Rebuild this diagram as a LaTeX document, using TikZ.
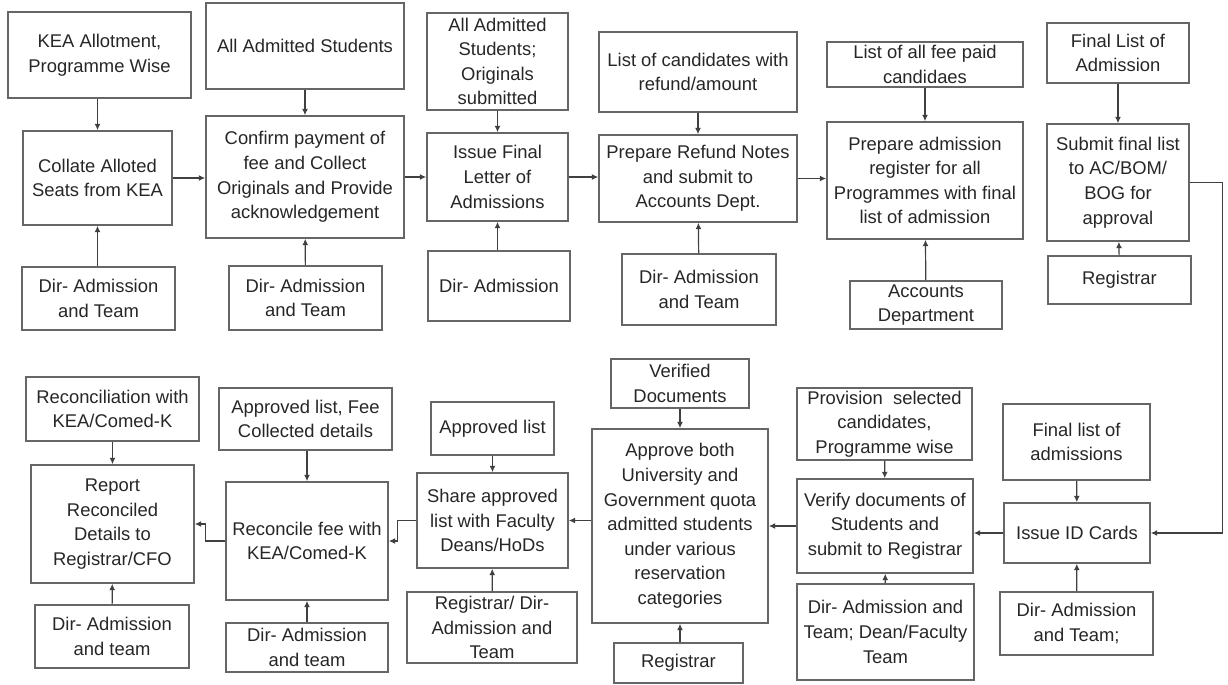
\documentclass[tikz,border=0pt]{standalone}
\usepackage{fontspec}
\setmainfont{Liberation Sans}
\usetikzlibrary{arrows.meta}

\tikzset{
    box/.style = {
        draw=black!60,
        line width=0.8pt,
        align=center,
        inner sep=0pt,
        text=black!85,
        font=\fontsize{9.2}{12.3}\selectfont
    },
    flow/.style = {
        draw=black!75,
        line width=0.6pt,
        -{Latex[length=3.2pt,width=3pt]}
    }
}

\begin{document}
\begin{tikzpicture}[x=0.5pt,y=-0.5pt]
    \useasboundingbox (0,0) rectangle (1228,685);

    % Top row
    \node[box, minimum width=91.5pt, minimum height=43pt] (kea) at (99.5,55) {KEA Allotment,\\Programme Wise};
    \node[box, minimum width=74.5pt, minimum height=47pt] (collate) at (97.5,178) {Collate Alloted\\Seats from KEA};
    \node[box, minimum width=76.5pt, minimum height=31.5pt] (dir1) at (98.5,298.5) {Dir- Admission\\and Team};

    \node[box, minimum width=99pt, minimum height=43pt] (alladm) at (305,46) {All Admitted Students};
    \node[box, minimum width=99pt, minimum height=61pt] (confirm) at (305,177) {Confirm payment of\\fee and Collect\\Originals and Provide\\acknowledgement};
    \node[box, minimum width=76.5pt, minimum height=32pt] (dir2) at (305.5,298) {Dir- Admission\\and Team};

    \node[box, minimum width=70.5pt, minimum height=48.5pt] (origs) at (497.5,61.5) {All Admitted\\Students;\\Originals\\submitted};
    \node[box, minimum width=70.5pt, minimum height=44pt] (issue) at (497.5,177) {Issue Final\\Letter of\\Admissions};
    \node[box, minimum width=71pt, minimum height=35pt] (dir3) at (499,286) {Dir- Admission};

    \node[box, minimum width=99pt, minimum height=40pt] (refundlist) at (698,72) {List of candidates with\\refund/amount};
    \node[box, minimum width=99pt, minimum height=43.5pt] (refund) at (698,178.5) {Prepare Refund Notes\\and submit to\\Accounts Dept.};
    \node[box, minimum width=77pt, minimum height=35.5pt] (dir4) at (699,289.5) {Dir- Admission\\and Team};

    \node[box, minimum width=98pt, minimum height=22.5pt] (feepaid) at (925,64.5) {List of all fee paid\\candidaes};
    \node[box, minimum width=98pt, minimum height=58.5pt] (register) at (925,180.5) {Prepare admission\\register for all\\Programmes with final\\list of admission};
    \node[box, minimum width=76pt, minimum height=24pt] (accounts) at (926,305) {Accounts\\Department};

    \node[box, minimum width=71pt, minimum height=30pt] (finallist) at (1118,53) {Final List of\\Admission};
    \node[box, minimum width=71pt, minimum height=58.5pt] (submit) at (1118,182.5) {Submit final list\\to AC/BOM/\\BOG for\\approval};
    \node[box, minimum width=71.5pt, minimum height=24pt] (registrar1) at (1119.5,280) {Registrar};

    % Bottom row
    \node[box, minimum width=86.5pt, minimum height=32pt] (reconkea) at (112.5,409) {Reconciliation with\\KEA/Comed-K};
    \node[box, minimum width=81.5pt, minimum height=59pt] (report) at (112.5,524) {Report\\Reconciled\\Details to\\Registrar/CFO};
    \node[box, minimum width=77pt, minimum height=31.5pt] (dir5) at (112,636.5) {Dir- Admission\\and team};

    \node[box, minimum width=86.5pt, minimum height=31pt] (feecoll) at (305.5,419) {Approved list, Fee\\Collected details};
    \node[box, minimum width=81pt, minimum height=59pt] (reconcile) at (307,541) {Reconcile fee with\\KEA/Comed-K};
    \node[box, minimum width=81pt, minimum height=24.5pt] (dir6) at (307,647.5) {Dir- Admission\\and team};

    \node[box, minimum width=61.5pt, minimum height=26.5pt] (apprlist) at (492.5,428.5) {Approved list};
    \node[box, minimum width=75.5pt, minimum height=47.5pt] (share) at (492.5,520.5) {Share approved\\list with Faculty\\Deans/HoDs};
    \node[box, minimum width=85pt, minimum height=35.5pt] (regdir) at (492,627.5) {Registrar/ Dir-\\Admission and\\Team};

    \node[box, minimum width=69pt, minimum height=24.5pt] (verified) at (680,383.5) {Verified\\Documents};
    \node[box, minimum width=88pt, minimum height=97pt] (approve) at (680,526) {Approve both\\University and\\Government quota\\admitted students\\under various\\reservation\\categories};
    \node[box, minimum width=64.5pt, minimum height=20pt] (registrar2) at (678.5,663) {Registrar};

    \node[box, minimum width=87.5pt, minimum height=36pt] (provision) at (884.5,424) {Provision\ \ selected\\candidates,\\Programme wise};
    \node[box, minimum width=88pt, minimum height=47pt] (verify) at (885,526) {Verify documents of\\Students and\\submit to Registrar};
    \node[box, minimum width=88.5pt, minimum height=48pt] (dir7) at (885.5,632) {Dir- Admission and\\Team; Dean/Faculty\\Team};

    \node[box, minimum width=73.5pt, minimum height=38pt] (finaladm) at (1076.5,442) {Final list of\\admissions};
    \node[box, minimum width=73pt, minimum height=30pt] (idcards) at (1077,533) {Issue ID Cards};
    \node[box, minimum width=76.5pt, minimum height=31.5pt] (dir8) at (1076.5,623.5) {Dir- Admission\\and Team;};

    % Draw arrows
    \draw[flow] (kea.south -| collate) -- (collate.north);
    \draw[flow] (dir1.north -| collate) -- (collate.south);
    \draw[flow] (collate.east) -- (collate.east -| confirm.west);
    \draw[flow] (alladm) -- (confirm);
    \draw[flow] (dir2) -- (confirm);
    \draw[flow] (confirm) -- (issue);
    \draw[flow] (origs) -- (issue);
    \draw[flow] (dir3.north -| issue) -- (issue.south);
    \draw[flow] (issue.east) -- (issue.east -| refund.west);
    \draw[flow] (refundlist) -- (refund);
    \draw[flow] (dir4) -- (refund);
    \draw[flow] (refund.east) -- (refund.east -| register.west);
    \draw[flow] (feepaid) -- (register);
    \draw[flow] (accounts) -- (register);
    \draw[flow] (finallist) -- (submit);
    \draw[flow] (registrar1) -- (submit);
    \draw[flow] (submit.east) -- ++(33,0) |- (idcards.east);
    %
    \draw[flow] (finaladm) -- (idcards);
    \draw[flow] (dir8) -- (idcards);
    \draw[flow] (idcards.west) -- (idcards.west -| verify.east);
    \draw[flow] (provision) -- (verify);
    \draw[flow] (dir7) -- (verify);
    \draw[flow] (verify) -- (approve);
    \draw[flow] (verified) -- (approve);
    \draw[flow] (registrar2.north -| approve) -- (approve.south);
    \draw[flow] (approve.west |- share) -- (share.east);
    \draw[flow] (apprlist) -- (share);
    \draw[flow] (regdir) -- (share);
    \draw[flow] (share.west) -- ++(-19,0) |- (reconcile.east);
    \draw[flow] (feecoll.south -| reconcile) -- (reconcile.north);
    \draw[flow] (dir6) -- (reconcile);
    \draw[flow] (reconcile.west) -- ++(-20,0) |- (report.east);
    \draw[flow] (reconkea) -- (report);
    \draw[flow] (dir5) -- (report);
\end{tikzpicture}
\end{document}
